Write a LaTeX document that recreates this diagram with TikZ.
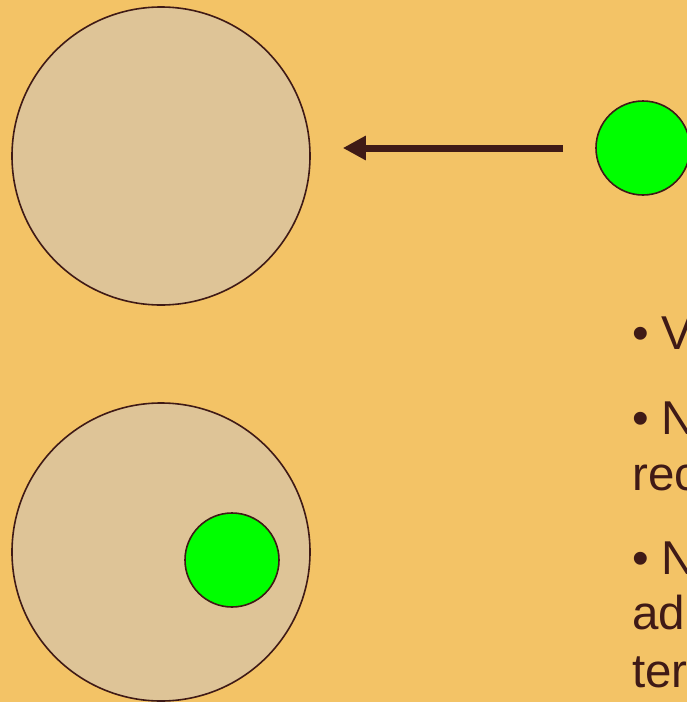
\documentclass[tikz,border=0pt]{standalone}
\usepackage{fontspec}
\setmainfont{Liberation Sans}
\usetikzlibrary{arrows.meta, positioning}
\definecolor{slide}{HTML}{F3C366}
\definecolor{cell}{HTML}{DEC497}
\definecolor{ink}{HTML}{3F1A16}
\definecolor{lime}{HTML}{00FF00}
\tikzstyle{bigcell} = [circle, draw=ink, line width=1.6pt, fill=cell,
	minimum size=298pt, inner sep=0pt]
\tikzstyle{ball} = [circle, draw=ink, line width=1.6pt, fill=lime,
	minimum size=94pt, inner sep=0pt]
\tikzstyle{push} = [-{Triangle[length=23pt, width=23pt]}, draw=ink, line width=7pt]
\tikzstyle{line} = [anchor=base west, inner sep=0pt, text=ink,
	font=\fontsize{47.5}{57}\selectfont]

\begin{document}
\begin{tikzpicture}[x=1pt, y=-1pt]
	% set up page
	\useasboundingbox (0,0) rectangle (687,702);
	\fill[slide] (0,0) rectangle (687,702);
	\clip (0,0) rectangle (687,702);

	% set up cells
	\node (big1) [bigcell] at (161,156) {};
	\node (small1) [ball] at (643,148) {};
	\node (big2) [bigcell] at (161,552) {};
	\node (small2) [ball] at (232,560) {};

	% set up arrow
	\draw [push, shorten <=32pt, shorten >=32pt] (small1.west) -- (small1.west -| big1.east);

	% set up text
	\node (v) [line] at (632,349) {• V};
	\node (n1) [line] at (632,434) {• N};
	\node (rec) [line] at (632,490) {rec};
	\node (n2) [line] at (632,574) {• N};
	\node (add) [line] at (632,629) {add};
	\node (ter) [line] at (632,687) {ter};
\end{tikzpicture}
\end{document}
